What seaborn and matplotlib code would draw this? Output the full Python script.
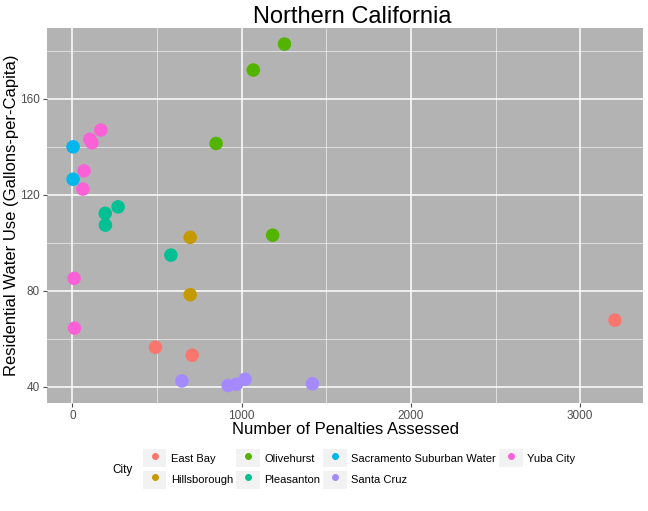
import pandas as pd
import matplotlib
matplotlib.use("Agg")
import matplotlib.pyplot as plt
from matplotlib.patches import Rectangle
from matplotlib.lines import Line2D
from matplotlib.legend_handler import HandlerTuple
from matplotlib.ticker import MultipleLocator
import seaborn as sns

# values
east_bay_pen = [3205, 491, 708]
east_bay_use = [67.8, 56.5, 53.2]
hillsborough_pen = [696, 696]
hillsborough_use = [102.3, 78.4]
olivehurst_pen = [1253, 1069, 849, 1183]
olivehurst_use = [182.8, 172.0, 141.4, 103.2]
pleasanton_pen = [270, 194, 195, 582]
pleasanton_use = [115.0, 112.3, 107.4, 94.9]
sacramento_pen = [4, 4]
sacramento_use = [140.0, 126.5]
santa_cruz_pen = [647, 920, 969, 1020, 1418]
santa_cruz_use = [42.5, 40.6, 41.1, 43.2, 41.3]
yuba_pen = [168, 103, 115, 69, 62, 10, 12]
yuba_use = [147.0, 143.1, 141.7, 130.0, 122.4, 85.2, 64.5]

cities = ["East Bay", "Hillsborough", "Olivehurst", "Pleasanton",
          "Sacramento Suburban Water", "Santa Cruz", "Yuba City"]
colors = ["#F8766D", "#C49A00", "#53B400", "#00C094",
          "#00B6EB", "#A58AFF", "#FB61D7"]


def build_frame():
    groups = [
        (east_bay_pen, east_bay_use),
        (hillsborough_pen, hillsborough_use),
        (olivehurst_pen, olivehurst_use),
        (pleasanton_pen, pleasanton_use),
        (sacramento_pen, sacramento_use),
        (santa_cruz_pen, santa_cruz_use),
        (yuba_pen, yuba_use),
    ]
    rows = []
    for city, (pen, use) in zip(cities, groups):
        for p, u in zip(pen, use):
            rows.append({"City": city, "Penalties": p, "Use": u})
    return pd.DataFrame(rows)


df = build_frame()
plt.rcParams["font.family"] = ["Liberation Sans", "DejaVu Sans"]

W, H = 648, 511
fig = plt.figure(figsize=(W / 100, H / 100), dpi=100)
ax = fig.add_axes([47 / W, 1 - 403 / H, (643 - 47) / W, (403 - 28) / H])
ax.set_facecolor("#B3B3B3")

sns.scatterplot(data=df, x="Penalties", y="Use", hue="City", hue_order=cities,
                palette=colors, s=95, linewidth=0, alpha=1, ax=ax,
                legend=False, zorder=3)

ax.set_xlim(-150, 3371)
ax.set_ylim(33.3, 189.5)
ax.xaxis.set_major_locator(MultipleLocator(1000))
ax.xaxis.set_minor_locator(MultipleLocator(500))
ax.yaxis.set_major_locator(MultipleLocator(40))
ax.yaxis.set_minor_locator(MultipleLocator(20))
ax.grid(which="major", color="white", linewidth=1.1, zorder=0)
ax.grid(which="minor", color="white", linewidth=0.5, alpha=0.8, zorder=0)
ax.set_axisbelow(True)
for sp in ax.spines.values():
    sp.set_visible(False)
ax.tick_params(which="major", length=3, color="#4D4D4D", labelsize=8.5,
               labelcolor="#4D4D4D", pad=2)
ax.tick_params(which="minor", length=0)

ax.set_title("Northern California", fontsize=17, pad=3, x=0.512)
ax.set_xlabel("Number of Penalties Assessed", fontsize=12, labelpad=0)
ax.set_ylabel("Residential Water Use (Gallons-per-Capita)", fontsize=12,
              labelpad=1)

# legend with grey key boxes, title on the left
handles = []
for c in colors:
    box = Rectangle((0, 0), 1, 1, facecolor="#F2F2F2", edgecolor="none")
    dot = Line2D([], [], marker="o", linestyle="none", color=c, markersize=4)
    handles.append((box, dot))
fig.legend(handles, cities, ncol=4, loc="center left",
           bbox_to_anchor=(143 / W, 1 - 469 / H), frameon=False,
           fontsize=8, handlelength=2.1, handleheight=2.1,
           handletextpad=0.4, columnspacing=0.3, labelspacing=0.3,
           borderpad=0, borderaxespad=0,
           handler_map={tuple: HandlerTuple(ndivide=1)})
fig.text(112 / W, 1 - 470 / H, "City", fontsize=8.5, va="center")

fig.savefig("out.png", dpi=100)
plt.close(fig)
